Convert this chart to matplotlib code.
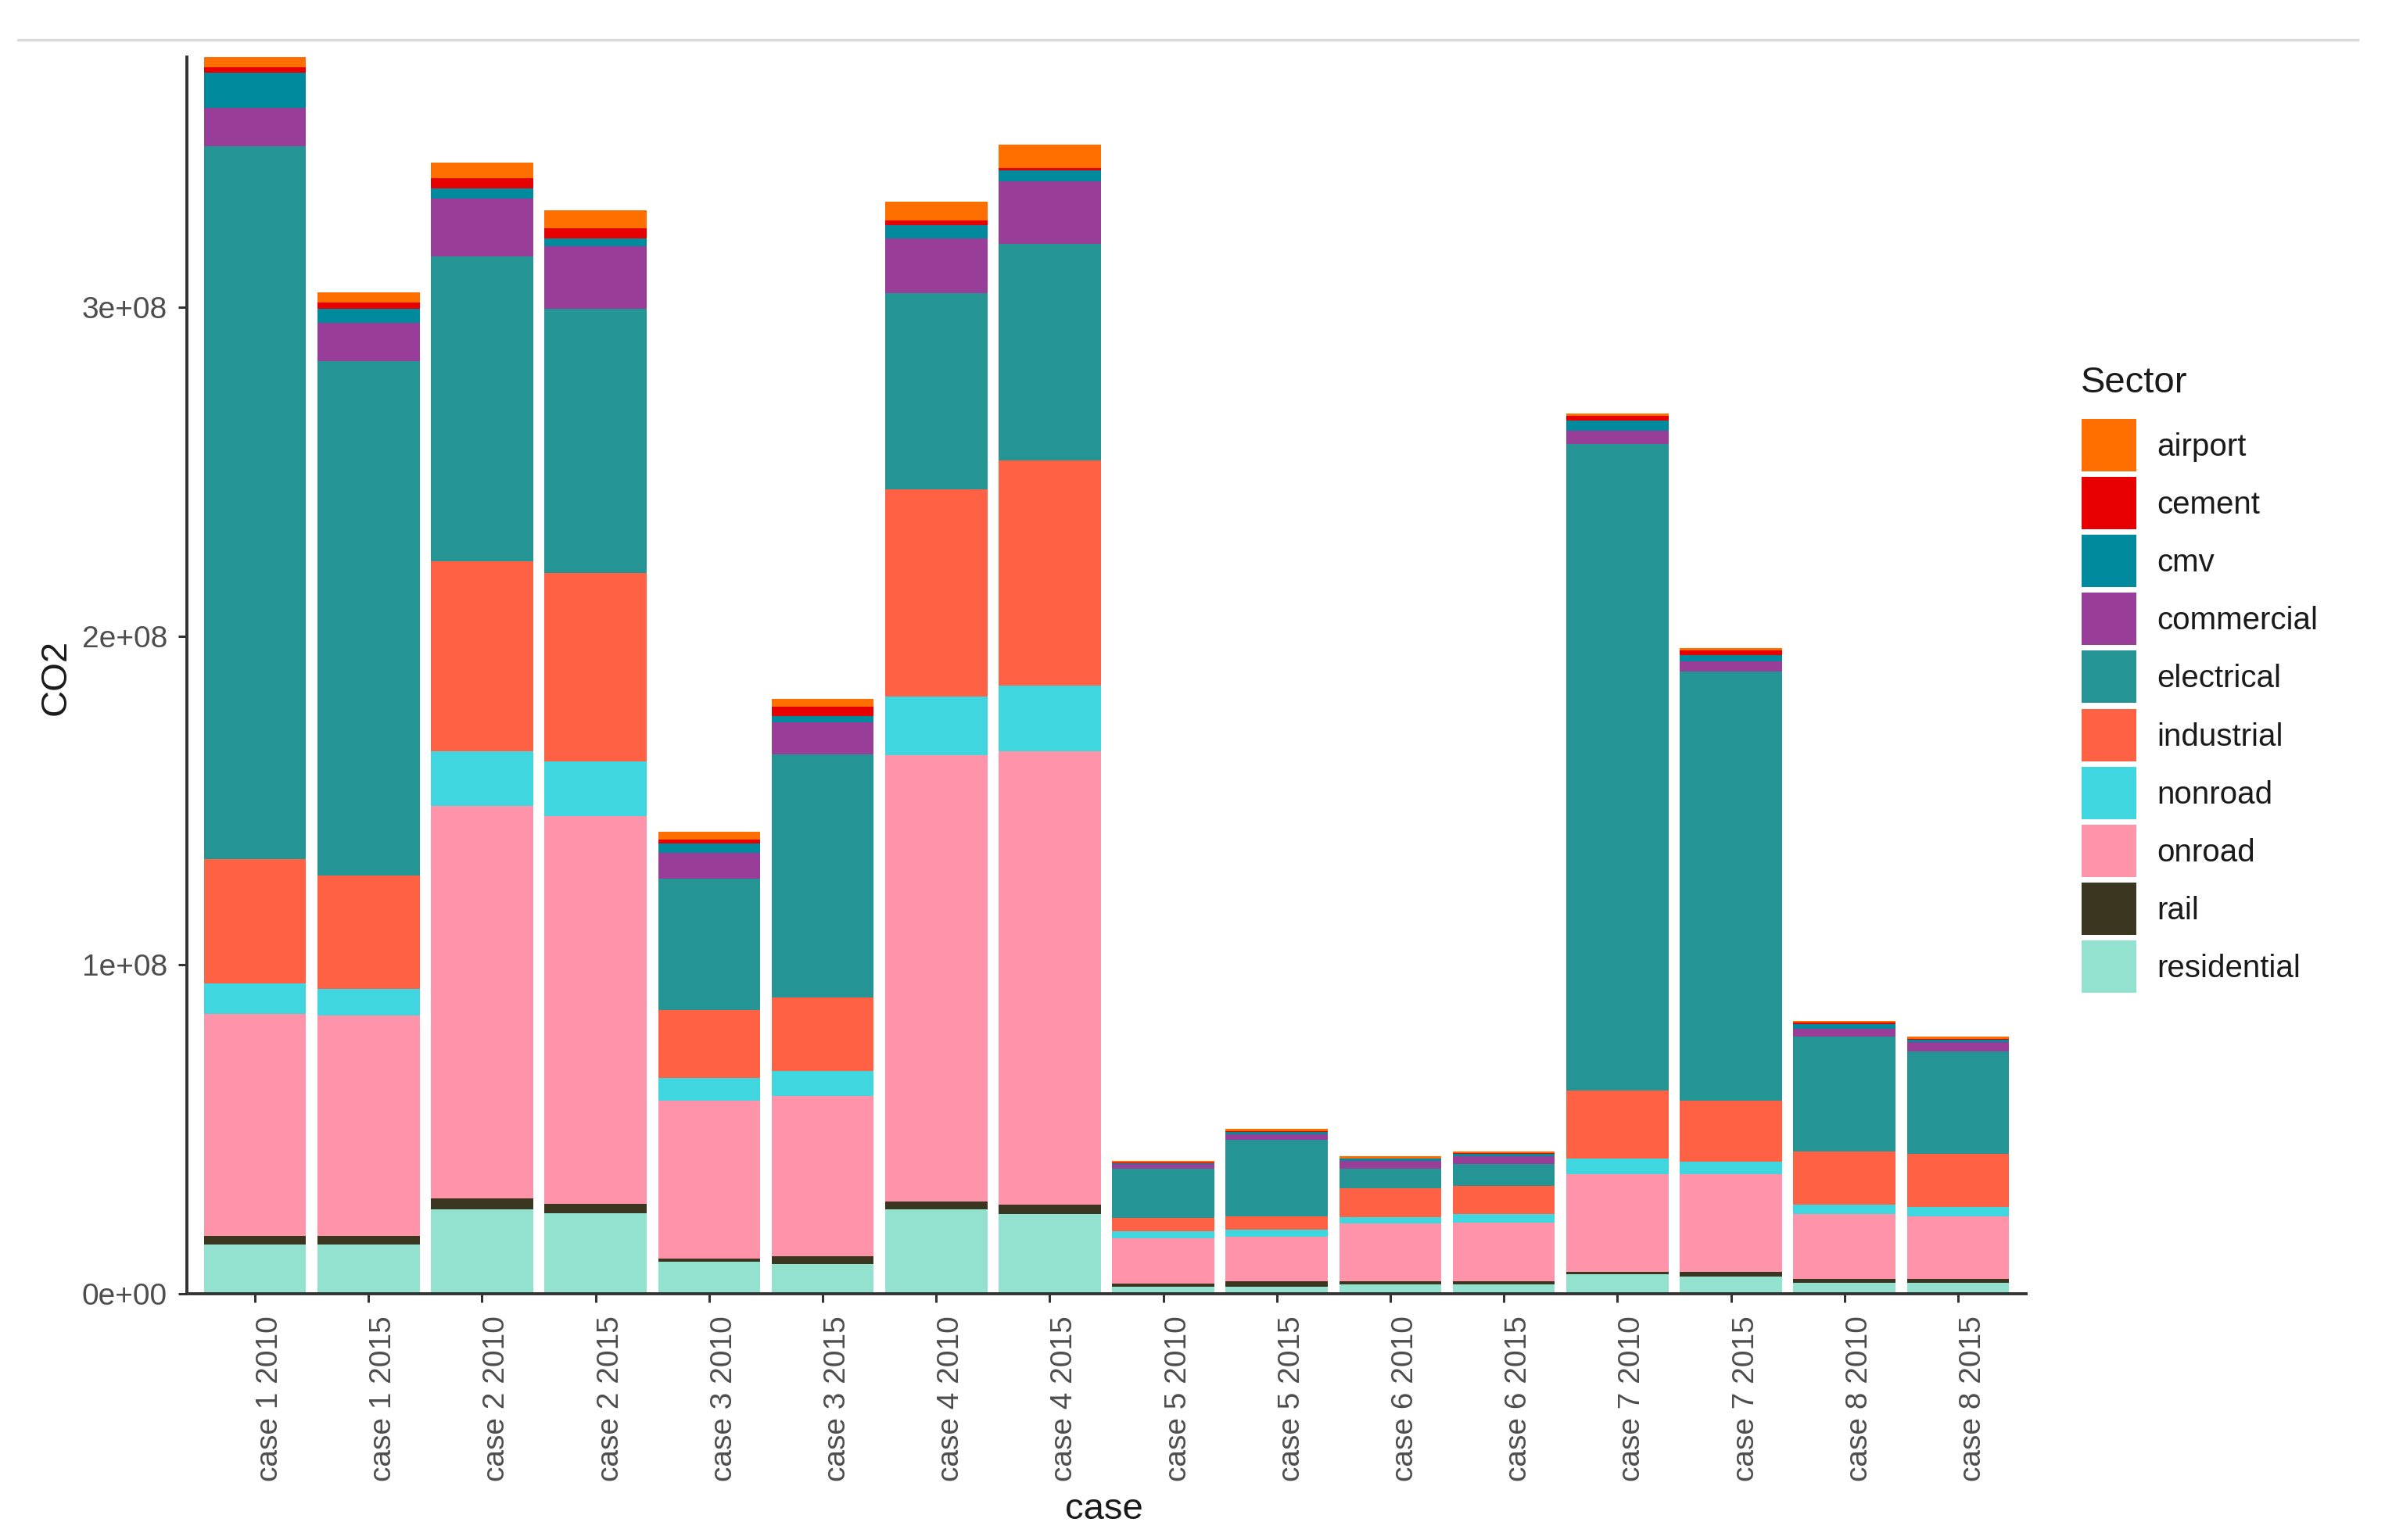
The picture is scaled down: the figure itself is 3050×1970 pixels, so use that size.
import matplotlib
matplotlib.use("Agg")
import matplotlib.pyplot as plt
import matplotlib.transforms as mtransforms
from matplotlib.lines import Line2D
from matplotlib.patches import Rectangle
from matplotlib.ticker import FuncFormatter
import numpy as np

plt.rcParams['font.family'] = ['Liberation Sans', 'DejaVu Sans']

# Datos (CO2 en unidades de 1e7)
cases = ["case 1 2010", "case 1 2015", "case 2 2010", "case 2 2015",
         "case 3 2010", "case 3 2015", "case 4 2010", "case 4 2015",
         "case 5 2010", "case 5 2015", "case 6 2010", "case 6 2015",
         "case 7 2010", "case 7 2015", "case 8 2010", "case 8 2015"]

sectors = ["airport", "cement", "cmv", "commercial", "electrical",
           "industrial", "nonroad", "onroad", "rail", "residential"]

residential = [1.50, 1.50, 2.57, 2.45, 0.97, 0.91, 2.57, 2.43, 0.21, 0.22, 0.28, 0.28, 0.59, 0.52, 0.34, 0.34]
rail        = [0.26, 0.26, 0.33, 0.28, 0.09, 0.24, 0.23, 0.28, 0.09, 0.15, 0.09, 0.09, 0.08, 0.15, 0.10, 0.10]
onroad      = [6.75, 6.70, 11.94, 11.79, 4.80, 4.87, 13.57, 13.79, 1.38, 1.37, 1.77, 1.79, 2.97, 2.97, 1.99, 1.91]
nonroad     = [0.92, 0.81, 1.66, 1.66, 0.69, 0.75, 1.80, 1.99, 0.21, 0.20, 0.20, 0.26, 0.46, 0.38, 0.29, 0.29]
industrial  = [3.79, 3.45, 5.78, 5.73, 2.08, 2.23, 6.29, 6.84, 0.41, 0.41, 0.87, 0.87, 2.08, 1.84, 1.61, 1.61]
electrical  = [21.68, 15.64, 9.26, 8.04, 3.99, 7.41, 5.97, 6.59, 1.50, 2.33, 0.59, 0.65, 19.65, 13.05, 3.49, 3.12]
commercial  = [1.16, 1.16, 1.76, 1.90, 0.78, 0.97, 1.66, 1.91, 0.14, 0.18, 0.24, 0.24, 0.40, 0.32, 0.24, 0.29]
cmv         = [1.07, 0.43, 0.31, 0.24, 0.28, 0.19, 0.40, 0.33, 0.03, 0.07, 0.06, 0.07, 0.31, 0.18, 0.14, 0.07]
cement      = [0.16, 0.19, 0.31, 0.31, 0.14, 0.28, 0.15, 0.07, 0.02, 0.02, 0.02, 0.02, 0.16, 0.16, 0.04, 0.03]
airport     = [0.31, 0.31, 0.47, 0.54, 0.23, 0.23, 0.57, 0.71, 0.05, 0.07, 0.06, 0.06, 0.06, 0.06, 0.06, 0.06]

data = {"airport": airport, "cement": cement, "cmv": cmv, "commercial": commercial,
        "electrical": electrical, "industrial": industrial, "nonroad": nonroad,
        "onroad": onroad, "rail": rail, "residential": residential}

colores = {"airport": "#FF6F00", "cement": "#E60000", "cmv": "#008A9E",
           "commercial": "#983E98", "electrical": "#249594", "industrial": "#FF6145",
           "nonroad": "#40D6E0", "onroad": "#FE93AA", "rail": "#3B3620",
           "residential": "#92E2CF"}

W, H = 3050, 1970

# Figura
fig = plt.figure(figsize=(W / 200, H / 200), dpi=200)
ax = fig.add_axes([239 / W, 1 - 1655 / H, (2591 - 239) / W, (1655 - 73) / H])

x = np.arange(len(cases))
base = np.zeros(len(cases))
for s in reversed(sectors):  # residential abajo
    vals = np.array(data[s]) * 1e7
    ax.bar(x, vals, 0.9, bottom=base, color=colores[s], linewidth=0)
    base += vals

ax.set_xlim(-0.6, len(cases) - 0.4)
ax.set_ylim(0, base.max())

# Ejes
for lado in ["top", "right"]:
    ax.spines[lado].set_visible(False)
for lado in ["left", "bottom"]:
    ax.spines[lado].set_color("#333333")
    ax.spines[lado].set_linewidth(1.4)

ax.set_yticks([0, 1e8, 2e8, 3e8])
ax.yaxis.set_major_formatter(FuncFormatter(lambda v, p: "%.0e" % v))
ax.set_xticks(x)
ax.set_xticklabels(cases, rotation=90, ha="center", va="top")
ax.tick_params(axis="both", length=4, width=1.1, color="#333333",
               labelcolor="#4D4D4D", labelsize=14)
ax.tick_params(axis="x", pad=6)
ax.tick_params(axis="y", pad=5)
desplazar = mtransforms.ScaledTranslation(0.095, 0, fig.dpi_scale_trans)
for et in ax.get_xticklabels():
    et.set_transform(et.get_transform() + desplazar)

fig.text(1412 / W, 1 - 1931 / H, "case", ha="center", va="center", fontsize=17, color="#1A1A1A")
fig.text(72 / W, 1 - 866 / H, "CO2", ha="center", va="center", rotation=90, fontsize=17, color="#1A1A1A")

# Leyenda (cajas de 70x67 px, paso de 74 px)
fig.text(2661 / W, 1 - 490 / H, "Sector", ha="left", va="center", fontsize=17, color="#1A1A1A")
for i, s in enumerate(sectors):
    arriba = 536 + i * 74.1
    fig.add_artist(Rectangle((2662 / W, 1 - (arriba + 67) / H), 70 / W, 67 / H,
                             transform=fig.transFigure, facecolor=colores[s], linewidth=0))
    fig.text(2758 / W, 1 - (arriba + 36) / H, s, ha="left", va="center",
             fontsize=14.5, color="#1A1A1A")

# Linea gris superior
fig.add_artist(Line2D([23 / W, 3015 / W], [1 - 51 / H, 1 - 51 / H],
                      transform=fig.transFigure, color="#D9D9D9", linewidth=1.2))

fig.savefig("out.png", dpi=200, facecolor="white")
